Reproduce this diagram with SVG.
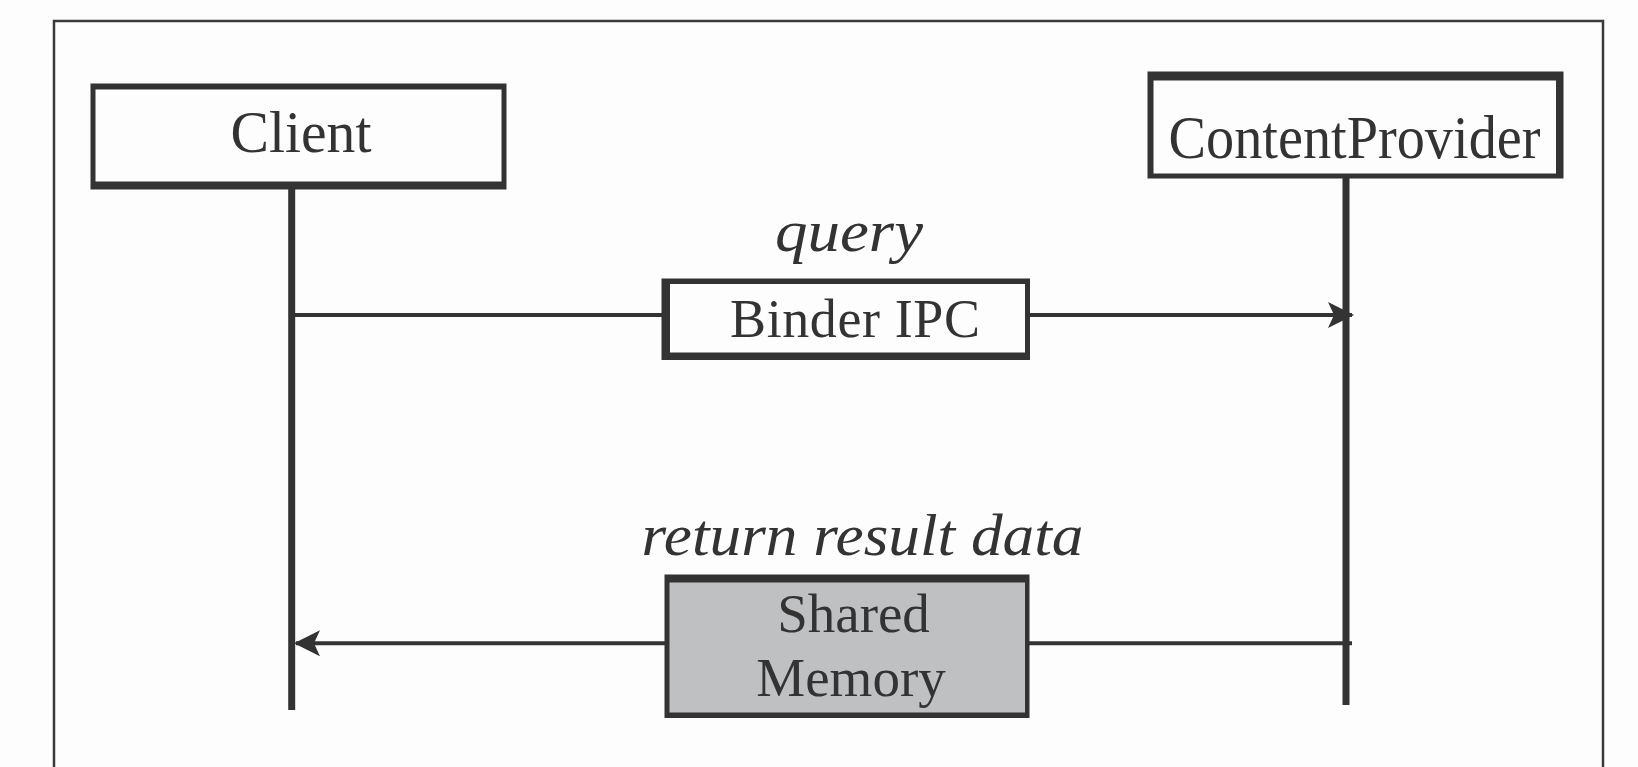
<svg xmlns="http://www.w3.org/2000/svg" width="1638" height="767" viewBox="0 0 1638 767">
<style>
.frame{fill:none;stroke:#3a3a3a;stroke-width:2.5}
.border{fill:#333333}
.inner{fill:#fdfdfd}
.innerGray{fill:#bfc0c2}
.life{stroke:#333333;stroke-width:7;fill:none}
.msg{stroke:#333333;stroke-width:4;fill:none}
.t{font-family:"Liberation Serif","Times New Roman",serif;fill:#333333;text-anchor:middle}
.lbl{font-family:"Liberation Serif","Times New Roman",serif;font-style:italic;fill:#333333;text-anchor:middle}
</style>
<defs>
<marker id="arrow" viewBox="0 0 26 26" refX="24" refY="13" markerWidth="26" markerHeight="26" markerUnits="userSpaceOnUse" orient="auto">
<path d="M0,0 L26,13 L0,26 L6,13 Z" fill="#333333"/>
</marker>
</defs>
<rect x="0" y="0" width="1638" height="767" fill="#fdfdfd"/>
<path class="frame" d="M54,770 V21 H1603 V770"/>

<g id="client">
<rect class="border" x="90.5" y="83.5" width="416" height="106"/>
<rect class="inner" x="95.5" y="89.5" width="406" height="92"/>
<text class="t" x="301" y="151.5" font-size="60" textLength="141" lengthAdjust="spacingAndGlyphs">Client</text>
</g>

<g id="contentprovider">
<rect class="border" x="1147.5" y="71.5" width="416" height="107"/>
<rect class="inner" x="1153.5" y="80.5" width="402.5" height="93"/>
<text class="t" x="1354.5" y="158" font-size="62" textLength="372" lengthAdjust="spacingAndGlyphs">ContentProvider</text>
</g>

<g id="binder">
<rect class="border" x="661.5" y="278.5" width="368.5" height="81.5"/>
<rect class="inner" x="670" y="284" width="355" height="68.5"/>
<text class="t" x="855" y="337" font-size="54" textLength="250" lengthAdjust="spacing">Binder IPC</text>
</g>

<g id="sharedmemory">
<rect class="border" x="664.5" y="574.5" width="365" height="143.5"/>
<rect class="innerGray" x="669.5" y="582.5" width="355.5" height="130"/>
<text class="t" x="853.5" y="631.5" font-size="55">Shared</text>
<text class="t" x="851" y="695.5" font-size="55">Memory</text>
</g>

<g id="labels">
<text class="lbl" x="849" y="250.5" font-size="60" textLength="148" lengthAdjust="spacingAndGlyphs">query</text>
<text class="lbl" x="862.5" y="555" font-size="60" textLength="442" lengthAdjust="spacingAndGlyphs">return result data</text>
</g>

<g id="connectors">
<line class="life" x1="291.7" y1="189" x2="291.7" y2="710"/>
<line class="life" x1="1346" y1="178" x2="1346" y2="705"/>
<line class="msg" x1="291.7" y1="315" x2="662" y2="315"/>
<line class="msg" x1="1030" y1="315" x2="1352" y2="315" marker-end="url(#arrow)"/>
<line class="msg" x1="1352" y1="643.3" x2="1029" y2="643.3"/>
<line class="msg" x1="665" y1="643.3" x2="296" y2="643.3" marker-end="url(#arrow)"/>
</g>
</svg>
